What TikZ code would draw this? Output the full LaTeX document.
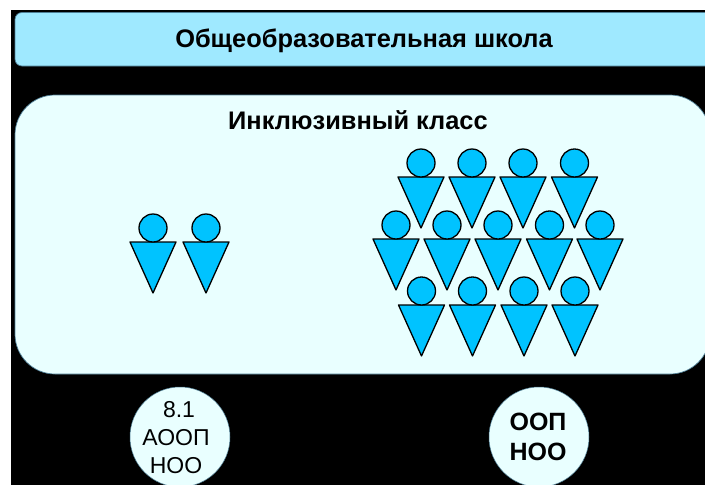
\documentclass[tikz,border=0pt]{standalone}
\usepackage{fontspec}
\setmainfont{Liberation Sans}
\definecolor{barcol}{HTML}{9FE9FF}
\definecolor{palecol}{HTML}{E9FFFF}
\definecolor{figcol}{HTML}{00C3FF}
\definecolor{edgecol}{HTML}{4F7F96}
\tikzset{
  panelbar/.style={fill=barcol,draw=edgecol,line width=0.7pt,rounded corners=7pt},
  panelbig/.style={fill=palecol,draw=edgecol,line width=0.7pt,rounded corners=40pt},
  headc/.style={circle,draw=black,fill=figcol,line width=1.3pt,minimum size=28pt,inner sep=0pt},
  bodyt/.style={fill=figcol,draw=black,line width=1.3pt,line join=round},
  badge/.style={circle,fill=palecol,draw=edgecol,line width=0.5pt,minimum size=100pt,inner sep=0pt},
  badgetext/.style={align=center,inner sep=0pt},
  titletext/.style={font=\fontsize{25.4}{28}\selectfont\bfseries,inner sep=0pt}
}
\newcommand{\person}[3]{%
  \draw[bodyt] (#1-23,#2+14) -- (#1+23,#2+14) -- (#1,#2+65) -- cycle;
  \node[headc] (#3) at (#1,#2) {};
}
\begin{document}
\begin{tikzpicture}[x=1pt,y=-1pt]
\useasboundingbox (0,0) rectangle (705,485);
\clip (0,0) rectangle (705,485);
\fill[white] (0,0) rectangle (705,485);
\fill[black] (11,10) rectangle (705,485);
\draw[panelbar] (15,12.5) rectangle (712,66);
\draw[panelbig] (15,95) rectangle (710,374);
\node[titletext] (title) at (364,40.5) {Общеобразовательная школа};
\node[titletext] (subtitle) at (358,120) {Инклюзивный класс};
\person{153}{228}{a1}
\person{206}{228}{a2}
\person{421}{163}{b1}
\person{472}{163}{b2}
\person{523}{163}{b3}
\person{574.5}{163}{b4}
\person{396}{225}{c1}
\person{447}{225}{c2}
\person{498}{225}{c3}
\person{549.5}{225}{c4}
\person{600}{225}{c5}
\person{421.5}{291}{d1}
\person{472.5}{291}{d2}
\person{524}{291}{d3}
\person{575}{291}{d4}
\node[badge] (aoop) at (180,437) {};
\node[badge] (oop) at (539,437) {};
\node[badgetext,font=\fontsize{23}{28}\selectfont] (aooptext) at (176,438) {\hspace*{6pt}8.1\\АООП\\НОО};
\node[badgetext,font=\fontsize{25}{30}\selectfont\bfseries] (ooptext) at (538,437) {ООП\\НОО};
\end{tikzpicture}
\end{document}
